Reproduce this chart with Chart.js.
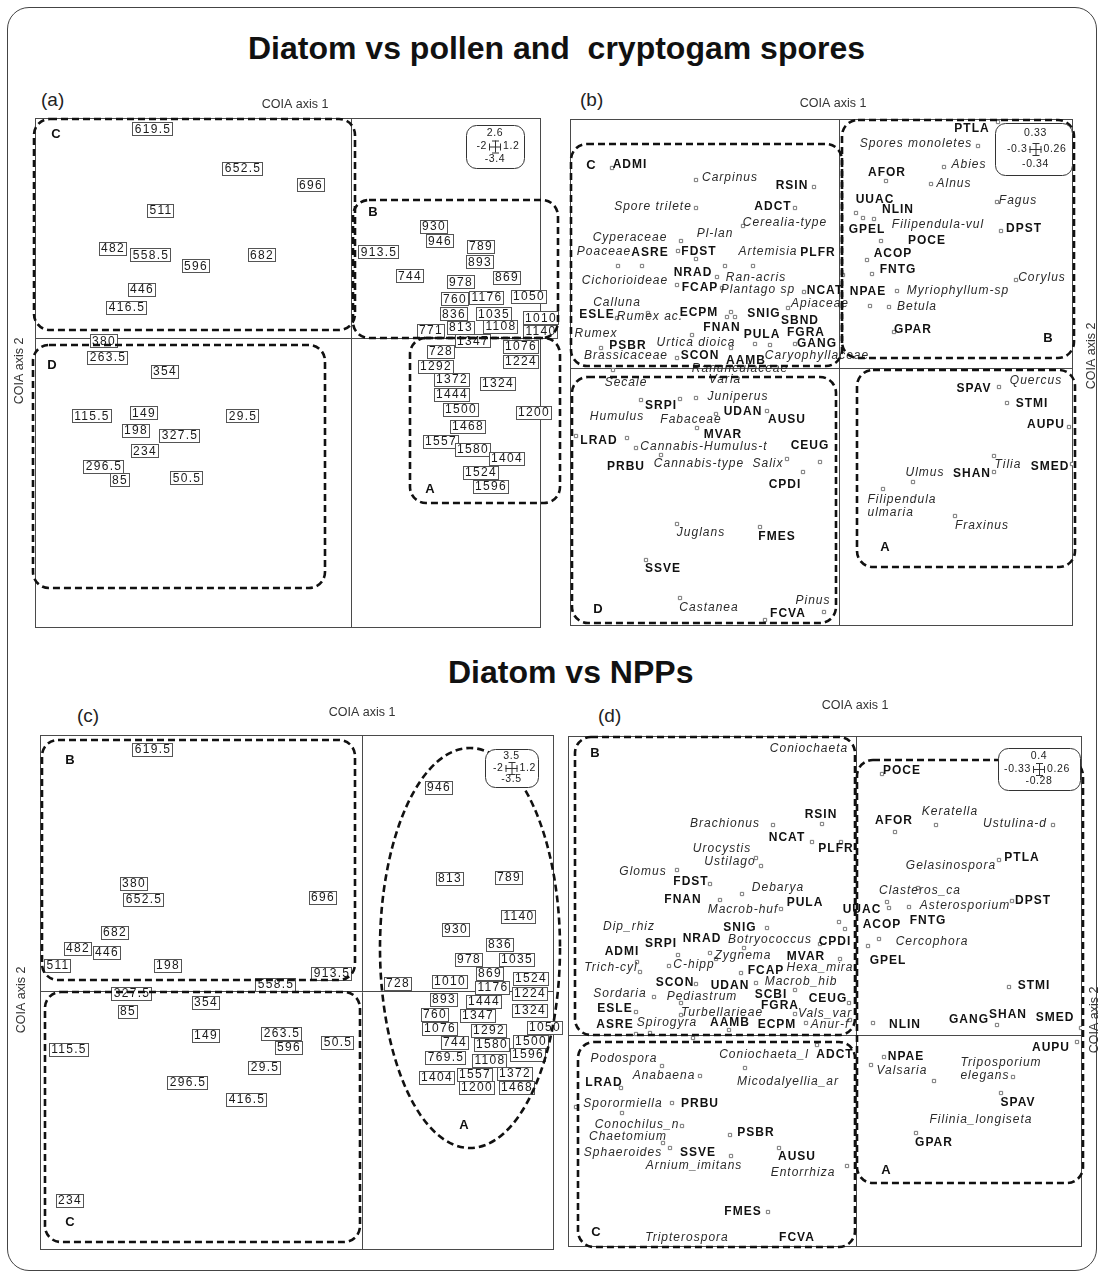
<!DOCTYPE html>
<html><head><meta charset="utf-8">
<script src="https://cdn.jsdelivr.net/npm/chart.js@4.4.0/dist/chart.umd.min.js"></script>
<style>
html,body{margin:0;padding:0;background:#fff;}
#page{position:relative;width:1103px;height:1279px;overflow:hidden;font-family:Arial,"Liberation Sans",sans-serif;}
#frame{position:absolute;left:7px;top:7px;width:1090px;height:1264px;border:1.5px solid #444;border-radius:22px;box-sizing:border-box;}
.title{position:absolute;white-space:pre;font-weight:bold;font-size:32px;line-height:32px;color:#111;}
.plab{position:absolute;font-size:19px;line-height:19px;color:#222;}
canvas{position:absolute;}
</style></head>
<body><div id="page">
<div id="frame"></div>
<div class="title" style="left:248px;top:32px;">Diatom vs pollen and  cryptogam spores</div>
<div class="title" style="left:448px;top:656px;">Diatom vs NPPs</div>
<div class="plab" style="left:41px;top:90px;">(a)</div>
<div class="plab" style="left:580px;top:90px;">(b)</div>
<div class="plab" style="left:77px;top:706px;">(c)</div>
<div class="plab" style="left:598px;top:706px;">(d)</div>
<canvas id="ca"></canvas><canvas id="cb"></canvas><canvas id="cc"></canvas><canvas id="cd"></canvas>
</div>
<script>
// ---------- Panel (a): diatom samples (depth labels) ----------
const aLabels = ['619.5','652.5','696','511','482','558.5','596','682','446','416.5','380','263.5','354','115.5','149','29.5','198','327.5','234','296.5','85','50.5','930','946','913.5','789','893','744','869','978','760','1176','1050','836','1035','1010','771','813','1108','1140','1347','1076','728','1224','1292','1372','1324','1444','1500','1200','1468','1557','1580','1404','1524','1596'];
const aX = [-1.99,-1.09,-0.41,-1.91,-2.39,-2.01,-1.56,-0.90,-2.10,-2.25,-2.48,-2.44,-1.87,-2.60,-2.08,-1.09,-2.16,-1.72,-2.07,-2.48,-2.32,-1.65,0.82,0.88,0.27,1.29,1.28,0.58,1.55,1.09,1.03,1.35,1.77,1.02,1.42,1.89,0.79,1.09,1.49,1.89,1.21,1.69,0.89,1.69,0.84,1.00,1.46,1.00,1.09,1.82,1.16,0.89,1.21,1.55,1.29,1.39];
const aY = [2.09,1.70,1.53,1.28,0.90,0.83,0.72,0.83,0.49,0.31,-0.03,-0.19,-0.33,-0.78,-0.75,-0.78,-0.92,-0.97,-1.13,-1.28,-1.42,-1.40,1.12,0.97,0.86,0.92,0.76,0.62,0.61,0.56,0.39,0.41,0.42,0.24,0.24,0.20,0.08,0.11,0.12,0.07,-0.03,-0.08,-0.13,-0.23,-0.28,-0.41,-0.45,-0.56,-0.71,-0.74,-0.88,-1.03,-1.11,-1.20,-1.34,-1.48];
const aRange = [-3.16, 1.90, -2.90, 2.20];
const aGroups = [['C',-3.17,2.19,0.04,0.08,-2.95,2.04],['B',0.02,1.38,2.07,0.00,0.22,1.26],['D',-3.18,-0.07,-0.26,-2.50,-2.99,-0.27],['A',0.59,0.00,2.09,-1.65,0.79,-1.51]];
const aLegend = ['2.6','-2','1.2','-3.4'];

// ---------- Panel (b): diatom species vs pollen / spores ----------
const bBold = ['ADMI','RSIN','ADCT','ASRE','FDST','PLFR','NRAD','FCAP','NCAT','ESLE','ECPM','SNIG','SBND','FNAN','PULA','FGRA','PSBR','GANG','SCON','AAMB','PTLA','AFOR','UUAC','NLIN','GPEL','DPST','POCE','ACOP','FNTG','NPAE','GPAR','SRPI','UDAN','AUSU','MVAR','LRAD','CEUG','PRBU','CPDI','FMES','SSVE','FCVA','SPAV','STMI','AUPU','SMED','SHAN'];
const bBoldX = [-2.09,-0.47,-0.66,-1.89,-1.40,-0.21,-1.46,-1.39,-0.14,-2.42,-1.40,-0.75,-0.39,-1.17,-0.77,-0.33,-2.11,-0.22,-1.39,-0.93,1.33,0.48,0.36,0.59,0.28,1.85,0.88,0.54,0.59,0.29,0.74,-1.78,-0.96,-0.52,-1.16,-2.40,-0.29,-2.13,-0.54,-0.62,-1.76,-0.51,1.35,1.93,2.07,2.11,1.33];
const bBoldY = [2.03,1.82,1.61,1.15,1.16,1.15,0.95,0.80,0.77,0.53,0.55,0.54,0.47,0.40,0.33,0.35,0.22,0.24,0.12,0.07,2.39,1.95,1.68,1.58,1.38,1.39,1.27,1.14,0.98,0.76,0.38,-0.38,-0.44,-0.52,-0.67,-0.73,-0.78,-0.99,-1.17,-1.69,-2.01,-2.46,-0.21,-0.36,-0.57,-0.99,-1.06];
const bTaxa = ['Carpinus','Spore trilete','Cerealia-type','Cyperaceae','Pl-lan','Poaceae','Artemisia','Cichorioideae','Ran-acris','Plantago sp','Calluna','Apiaceae','Rumex ac.','Rumex','Urtica dioica','Brassicaceae','Caryophyllaceae','Ranunculaceae','Spores monoletes','Abies','Alnus','Fagus','Filipendula-vul','Corylus','Myriophyllum-sp','Betula','Secale','Varia','Juniperus','Humulus','Fabaceae','Cannabis-Humulus-t','Cannabis-type','Salix','Juglans','Castanea','Pinus','Quercus','Tilia','Ulmus','Filipendula\nulmaria','Fraxinus'];
const bTaxaX = [-1.09,-1.86,-0.54,-2.09,-1.24,-2.35,-0.71,-2.14,-0.83,-0.81,-2.22,-0.19,-1.89,-2.43,-1.43,-2.13,-0.22,-0.99,0.77,1.30,1.15,1.79,0.99,2.03,1.19,0.78,-2.13,-1.14,-1.01,-2.22,-1.48,-1.35,-1.40,-0.71,-1.38,-1.30,-0.26,1.97,1.69,0.86,0.63,1.43];
const bTaxaY = [1.90,1.61,1.45,1.30,1.34,1.16,1.16,0.87,0.90,0.78,0.65,0.64,0.51,0.34,0.25,0.12,0.12,-0.01,2.24,2.03,1.84,1.67,1.43,0.90,0.77,0.61,-0.15,-0.12,-0.29,-0.49,-0.52,-0.79,-0.96,-0.96,-1.65,-2.40,-2.33,-0.13,-0.97,-1.05,-1.38,-1.58];
const bPtX = [-2.27,-1.43,-0.25,-1.43,-0.44,-0.96,-1.58,-1.61,-1.43,-2.21,-1.97,-1.14,-0.86,0.04,-1.22,-1.62,-1.17,-0.35,-0.51,-2.22,-1.91,-1.12,-1.08,-1.04,-1.47,-2.38,-1.08,-0.84,-0.69,-0.44,-2.26,-1.62,1.59,1.39,1.05,0.47,0.92,1.58,0.17,0.24,0.35,1.62,0.42,0.28,0.33,1.77,0.58,0.50,0.31,0.55,-1.43,-1.98,-1.59,-1.23,-0.72,-1.42,-2.63,-2.12,-2.03,-1.78,-0.52,-0.19,-0.36,-1.62,-0.79,-1.93,-1.59,-0.15,-0.74,1.60,1.68,2.30,1.55,2.33,0.74,1.55,0.44,1.16];
const bPtY = [2.00,1.88,1.81,1.60,1.60,1.42,1.27,1.17,1.09,1.02,1.02,1.02,1.02,0.93,0.91,0.83,0.80,0.76,0.60,0.50,0.55,0.51,0.56,0.51,0.33,0.20,0.20,0.24,0.23,0.24,-0.02,0.10,2.46,2.22,2.01,1.87,1.84,1.66,1.55,1.50,1.49,1.37,1.27,1.08,0.94,0.88,0.77,0.61,0.62,0.36,-0.30,-0.32,-0.31,-0.46,-0.43,-0.60,-0.68,-0.70,-0.80,-0.87,-0.91,-0.94,-1.04,-1.56,-1.59,-1.92,-2.30,-2.44,-2.52,-0.19,-0.35,-0.59,-0.88,-0.96,-1.14,-1.04,-1.21,-1.48];
const bRange = [-2.69, 2.34, -2.58, 2.49];
const bGroups = [['C',-2.68,2.24,0.03,0.02,-2.48,2.03],['B',0.03,2.48,2.35,0.10,2.09,0.30],['D',-2.67,-0.09,-0.03,-2.55,-2.41,-2.41],['A',0.18,-0.02,2.36,-1.99,0.46,-1.79]];
const bLegend = ['0.33','-0.3','0.26','-0.34'];

// ---------- Panel (c): diatom samples vs NPPs ----------
const cLabels = ['946','813','789','1140','930','836','978','1035','869','1524','728','1010','1176','1224','893','1444','1324','760','1347','1076','1292','1050','744','1580','1500','769.5','1596','1108','1404','1557','1372','1200','1468','619.5','380','652.5','696','682','482','446','511','198','558.5','913.5','327.5','85','354','149','263.5','596','50.5','29.5','115.5','296.5','416.5','234'];
const cX = [0.76,0.87,1.46,1.56,0.93,1.37,1.06,1.54,1.27,1.68,0.35,0.87,1.30,1.67,0.81,1.21,1.67,0.72,1.15,0.77,1.26,1.82,0.92,1.29,1.68,0.83,1.65,1.27,0.74,1.12,1.52,1.14,1.54,-2.10,-2.29,-2.19,-0.40,-2.48,-2.85,-2.56,-3.05,-1.95,-0.87,-0.31,-2.31,-2.35,-1.57,-1.57,-0.81,-0.74,-0.25,-0.98,-2.94,-1.75,-1.16,-2.93];
const cY = [2.04,1.13,1.14,0.75,0.62,0.47,0.32,0.32,0.18,0.13,0.08,0.10,0.04,-0.02,-0.08,-0.10,-0.19,-0.23,-0.24,-0.37,-0.39,-0.36,-0.51,-0.53,-0.50,-0.66,-0.63,-0.69,-0.86,-0.83,-0.82,-0.96,-0.96,2.42,1.08,0.92,0.94,0.59,0.43,0.39,0.26,0.26,0.07,0.18,-0.02,-0.20,-0.11,-0.44,-0.42,-0.56,-0.51,-0.76,-0.58,-0.91,-1.08,-2.09];
const cRange = [-3.22, 1.92, -2.59, 2.56];
const cGroups = [['B',-3.20,2.51,-0.07,0.11,-2.92,2.31],['C',-3.17,-0.01,-0.02,-2.51,-2.92,-2.31]];
const cEllipse = ['A',1.08,0.43,0.90,2.00,1.02,-1.34];
const cLegend = ['3.5','-2','1.2','-3.5'];

// ---------- Panel (d): diatom species vs NPPs ----------
const dBold = ['RSIN','NCAT','PLFR','FDST','FNAN','PULA','UUAC','SNIG','SRPI','NRAD','CPDI','ADMI','MVAR','FCAP','SCON','UDAN','SCBI','CEUG','ESLE','FGRA','ASRE','AAMB','ECPM','ADCT','LRAD','PRBU','PSBR','SSVE','AUSU','FMES','FCVA','POCE','AFOR','PTLA','DPST','ACOP','FNTG','GPEL','STMI','NLIN','GANG','SHAN','SMED','AUPU','NPAE','SPAV','GPAR'];
const dBoldX = [-0.35,-0.69,-0.20,-1.65,-1.73,-0.51,0.06,-1.16,-1.95,-1.54,-0.21,-2.34,-0.50,-0.90,-1.81,-1.26,-0.85,-0.28,-2.41,-0.76,-2.41,-1.26,-0.79,-0.21,-2.52,-1.56,-1.00,-1.58,-0.59,-1.13,-0.59,0.46,0.38,1.66,1.77,0.26,0.72,0.32,1.78,0.49,1.13,1.52,1.99,1.95,0.50,1.62,0.78];
const dBoldY = [2.20,1.97,1.86,1.53,1.35,1.32,1.25,1.07,0.91,0.96,0.93,0.83,0.78,0.64,0.52,0.49,0.40,0.36,0.26,0.29,0.10,0.12,0.10,-0.20,-0.48,-0.69,-0.98,-1.18,-1.22,-1.77,-2.03,2.64,2.14,1.77,1.34,1.10,1.14,0.74,0.49,0.10,0.15,0.20,0.17,-0.13,-0.22,-0.68,-1.08];
const dTaxa = ['Coniochaeta','Brachionus','Urocystis','Ustilago','Glomus','Debarya','Macrob-huf','Dip_rhiz','Botryococcus','Zygnema','Trich-cyl','C-hipp','Hexa_mira','Macrob_hib','Sordaria','Pediastrum','Turbellarieae','Vals_var','Spirogyra','Anur-f','Coniochaeta_l','Podospora','Anabaena','Micodalyellia_ar','Sporormiella','Conochilus_n','Chaetomium','Sphaeroides','Arnium_imitans','Entorrhiza','Tripterospora','Keratella','Ustulina-d','Gelasinospora','Clasteros_ca','Asterosporium','Cercophora','Valsaria','Triposporium\nelegans','Filinia_longiseta'];
const dTaxaX = [-0.47,-1.31,-1.34,-1.26,-2.13,-0.78,-1.13,-2.27,-0.86,-1.13,-2.45,-1.62,-0.36,-0.55,-2.36,-1.54,-1.34,-0.31,-1.89,-0.26,-0.92,-2.32,-1.92,-0.68,-2.33,-2.19,-2.28,-2.33,-1.62,-0.53,-1.69,0.94,1.59,0.95,0.64,1.09,0.76,0.46,1.45,1.25];
const dTaxaY = [2.86,2.11,1.86,1.73,1.63,1.47,1.25,1.08,0.95,0.79,0.67,0.70,0.67,0.53,0.41,0.38,0.22,0.21,0.12,0.10,-0.20,-0.24,-0.41,-0.47,-0.69,-0.90,-1.02,-1.18,-1.31,-1.38,-2.03,2.23,2.11,1.69,1.44,1.29,0.93,-0.36,-0.34,-0.85];
const dPtX = [-0.34,-0.83,-0.44,-0.15,-1.00,-0.95,-1.79,-1.46,-1.14,-1.36,-0.75,-0.89,-0.17,-0.11,-1.12,-0.36,-1.46,-1.40,-0.16,-2.19,-2.16,-1.87,-1.78,-1.15,-1.60,-1.00,-0.61,-2.02,-1.75,-0.07,-2.20,-1.75,-0.61,-2.20,-2.06,-1.27,-0.50,-0.06,-1.63,-0.39,-1.94,-1.56,-1.11,-2.35,-1.84,-2.80,-1.74,-2.34,-1.93,-1.26,-1.86,-1.25,-0.77,-0.09,-0.88,0.26,0.80,0.39,1.97,1.43,0.62,0.53,0.31,0.33,1.56,0.23,0.12,1.53,0.17,1.41,2.25,2.21,0.28,0.15,0.78,1.57,1.45,0.60];
const dPtY = [2.11,2.10,1.93,1.93,1.77,1.69,1.65,1.51,1.41,1.35,1.26,1.07,1.13,1.06,0.87,0.91,0.82,0.76,0.76,0.73,0.63,0.69,0.80,0.62,0.51,0.52,0.45,0.38,0.32,0.32,0.23,0.20,0.21,0.01,0.02,0.05,0.12,0.15,-0.03,-0.10,-0.31,-0.41,-0.33,-0.53,-0.68,-0.72,-0.91,-0.78,-1.08,-1.00,-1.13,-1.21,-1.13,-1.31,-1.77,2.61,2.10,2.03,2.10,1.75,1.47,1.28,1.33,1.27,1.34,0.96,0.89,0.48,0.12,0.10,0.07,-0.07,-0.22,-0.30,-0.46,-0.42,-0.58,-0.98];
const dRange = [-2.88, 2.26, -2.12, 2.99];
const dGroups = [['B',-2.81,2.98,-0.01,0.00,-2.61,2.82],['A',0.01,2.75,2.27,-1.48,0.30,-1.35],['C',-2.78,-0.07,-0.01,-2.12,-2.60,-1.97]];
const dLegend = ['0.4','-0.33','0.26','-0.28'];

const AXIS1 = 'COIA axis 1', AXIS2 = 'COIA axis 2';

// ---------- drawing helpers ----------
function pts(xs, ys){ return xs.map((x,i)=>({x:x, y:ys[i]})); }

function roundRectPath(ctx, l, t, r, b, rad){
  ctx.beginPath();
  ctx.moveTo(l+rad, t);
  ctx.arcTo(r, t, r, b, rad);
  ctx.arcTo(r, b, l, b, rad);
  ctx.arcTo(l, b, l, t, rad);
  ctx.arcTo(l, t, r, t, rad);
  ctx.closePath();
}

function decoPlugin(cfg){
  return {
    id: 'deco',
    beforeDatasetsDraw(chart){
      const ctx = chart.ctx, a = chart.chartArea, sx = chart.scales.x, sy = chart.scales.y;
      ctx.save();
      ctx.strokeStyle = '#4a4a4a'; ctx.lineWidth = 1;
      ctx.strokeRect(Math.round(a.left)+0.5, Math.round(a.top)+0.5, Math.round(a.right-a.left)-1, Math.round(a.bottom-a.top)-1);
      const x0 = Math.round(sx.getPixelForValue(0))+0.5, y0 = Math.round(sy.getPixelForValue(0))+0.5;
      ctx.beginPath();
      ctx.moveTo(x0, a.top); ctx.lineTo(x0, a.bottom);
      ctx.moveTo(a.left, y0); ctx.lineTo(a.right, y0);
      ctx.stroke();
      ctx.restore();
    },
    afterDatasetsDraw(chart){
      const ctx = chart.ctx, a = chart.chartArea, sx = chart.scales.x, sy = chart.scales.y;
      ctx.save();
      // boxed sample labels
      if (cfg.boxed){
        const meta = chart.getDatasetMeta(cfg.boxed.ds);
        ctx.font = '12px Arial, "Liberation Sans", sans-serif';
        ctx.letterSpacing = '1.3px';
        ctx.textAlign = 'center'; ctx.textBaseline = 'middle';
        meta.data.forEach((el, i) => {
          const t = cfg.boxed.names[i];
          const w = ctx.measureText(t).width + 3, h = 13;
          const l = Math.round(el.x - w/2), tp = Math.round(el.y - h/2);
          ctx.fillStyle = '#fff'; ctx.fillRect(l, tp, Math.round(w), h);
          ctx.strokeStyle = '#555'; ctx.lineWidth = 1;
          ctx.strokeRect(l+0.5, tp+0.5, Math.round(w), h);
          ctx.fillStyle = '#1a1a1a'; ctx.fillText(t, el.x + 1, el.y + 1);
        });
      }
      // free text labels
      (cfg.texts || []).forEach(ts => {
        const meta = chart.getDatasetMeta(ts.ds);
        ctx.font = ts.bold ? 'bold 12px Arial, "Liberation Sans", sans-serif' : 'italic 12px Arial, "Liberation Sans", sans-serif';
        ctx.letterSpacing = '1px';
        ctx.fillStyle = ts.bold ? '#111' : '#2a2a2a';
        ctx.textBaseline = 'middle';
        meta.data.forEach((el, i) => {
          const lines = ts.names[i].split('\n');
          if (lines.length === 1){
            ctx.textAlign = 'center'; ctx.fillText(lines[0], el.x, el.y);
          } else {
            const mw = Math.max(...lines.map(s => ctx.measureText(s).width));
            ctx.textAlign = 'left';
            lines.forEach((s, k) => ctx.fillText(s, el.x - mw/2, el.y + (k - (lines.length-1)/2)*13.5));
          }
        });
      });
      // dashed group outlines and letters
      ctx.letterSpacing = '0px';
      ctx.strokeStyle = '#111'; ctx.lineWidth = 2.6; ctx.setLineDash([7,4]);
      (cfg.groups || []).forEach(g => {
        const l = sx.getPixelForValue(g[1]), t = sy.getPixelForValue(g[2]);
        const r = sx.getPixelForValue(g[3]), b = sy.getPixelForValue(g[4]);
        roundRectPath(ctx, l, t, r, b, 16); ctx.stroke();
      });
      if (cfg.ellipse){
        const e = cfg.ellipse;
        const cx = sx.getPixelForValue(e[1]), cy = sy.getPixelForValue(e[2]);
        const rx = Math.abs(sx.getPixelForValue(e[1]+e[3]) - cx), ry = Math.abs(sy.getPixelForValue(e[2]+e[4]) - cy);
        ctx.beginPath(); ctx.ellipse(cx, cy, rx, ry, 0, 0, Math.PI*2); ctx.stroke();
      }
      ctx.setLineDash([]);
      ctx.font = 'bold 13px Arial, "Liberation Sans", sans-serif';
      ctx.fillStyle = '#111'; ctx.textAlign = 'center'; ctx.textBaseline = 'middle';
      (cfg.groups || []).concat(cfg.ellipse ? [cfg.ellipse] : []).forEach(g => {
        ctx.fillText(g[0], sx.getPixelForValue(g[5]), sy.getPixelForValue(g[6]));
      });
      // scale legend box
      const L = cfg.legend;
      const x2 = a.right - L.dr, x1 = x2 - L.w, y1 = a.top + L.dt, y2 = y1 + L.h;
      ctx.fillStyle = '#fff'; ctx.strokeStyle = '#333'; ctx.lineWidth = 1;
      roundRectPath(ctx, x1+0.5, y1+0.5, x2+0.5, y2+0.5, 10); ctx.fill(); ctx.stroke();
      const cx = (x1+x2)/2 + L.cxo, cy = (y1+y2)/2;
      ctx.font = '10.5px Arial, "Liberation Sans", sans-serif'; ctx.letterSpacing = '0.6px';
      ctx.fillStyle = '#222'; ctx.textBaseline = 'middle';
      ctx.textAlign = 'center';
      ctx.fillText(L.vals[0], cx, cy - L.h*0.3);
      ctx.fillText(L.vals[3], cx, cy + L.h*0.3);
      ctx.textAlign = 'right'; ctx.fillText(L.vals[1], cx - 8, cy);
      ctx.textAlign = 'left'; ctx.fillText(L.vals[2], cx + 8, cy);
      ctx.beginPath();
      ctx.moveTo(cx-6, cy+0.5); ctx.lineTo(cx+6, cy+0.5);
      ctx.moveTo(cx-5.5, cy-3); ctx.lineTo(cx-5.5, cy+4);
      ctx.moveTo(cx+5.5, cy-3); ctx.lineTo(cx+5.5, cy+4);
      ctx.moveTo(cx+0.5, cy-6); ctx.lineTo(cx+0.5, cy+6);
      ctx.moveTo(cx-3, cy-5.5); ctx.lineTo(cx+4, cy-5.5);
      ctx.moveTo(cx-3, cy+6.5); ctx.lineTo(cx+4, cy+6.5);
      ctx.stroke();
      // axis titles
      ctx.font = '12.5px Arial, "Liberation Sans", sans-serif'; ctx.letterSpacing = '0px';
      ctx.fillStyle = '#333'; ctx.textAlign = 'center'; ctx.textBaseline = 'middle';
      ctx.fillText(AXIS1, sx.getPixelForValue(cfg.ax1.at), a.top - cfg.ax1.gap);
      const ax2x = cfg.ax2.side === 'left' ? a.left - cfg.ax2.gap : a.right + cfg.ax2.gap;
      ctx.translate(ax2x, sy.getPixelForValue(cfg.ax2.at));
      ctx.rotate(-Math.PI/2);
      ctx.fillText(AXIS2, 0, 0);
      ctx.restore();
    }
  };
}

function makeChart(id, box, range, datasets, cfg){
  const M = 45;
  const cv = document.getElementById(id);
  const W = box[2]-box[0]+2*M, H = box[3]-box[1]+2*M;
  cv.width = W; cv.height = H;
  cv.style.width = W+'px'; cv.style.height = H+'px';
  cv.style.left = (box[0]-M)+'px'; cv.style.top = (box[1]-M)+'px';
  return new Chart(cv, {
    type: 'scatter',
    data: { datasets: datasets },
    options: {
      responsive: false, animation: false, devicePixelRatio: 1, events: [],
      layout: { padding: M },
      plugins: { legend: {display:false}, tooltip: {enabled:false}, title: {display:false} },
      scales: {
        x: { type:'linear', min: range[0], max: range[1], display: false },
        y: { type:'linear', min: range[2], max: range[3], display: false }
      }
    },
    plugins: [decoPlugin(cfg)]
  });
}

const hidden = d => ({ data: d, pointRadius: 0, pointHoverRadius: 0, showLine: false });
const squares = d => ({ data: d, pointStyle: 'rect', pointRadius: 2.3, pointBorderWidth: 1, pointBorderColor: '#777', pointBackgroundColor: '#fff', borderColor:'#777', backgroundColor:'#fff', showLine:false });

makeChart('ca', [35,118,541,628], aRange, [hidden(pts(aX,aY))], {
  boxed: {ds:0, names:aLabels}, groups: aGroups,
  legend: {vals:aLegend, w:58, h:43, dr:17, dt:7, cxo:0},
  ax1: {at:-0.56, gap:13}, ax2: {side:'left', gap:15, at:-0.33}
});
makeChart('cb', [570,119,1073,626], bRange, [squares(pts(bPtX,bPtY)), hidden(pts(bBoldX,bBoldY)), hidden(pts(bTaxaX,bTaxaY))], {
  texts: [{ds:1, names:bBold, bold:true}, {ds:2, names:bTaxa, bold:false}], groups: bGroups,
  legend: {vals:bLegend, w:77, h:52, dr:1, dt:4, cxo:2},
  ax1: {at:-0.06, gap:15}, ax2: {side:'right', gap:19, at:0.12}
});
makeChart('cc', [40,735,554,1250], cRange, [hidden(pts(cX,cY))], {
  boxed: {ds:0, names:cLabels}, groups: cGroups, ellipse: cEllipse,
  legend: {vals:cLegend, w:53, h:38, dr:16, dt:14, cxo:0},
  ax1: {at:0, gap:22}, ax2: {side:'left', gap:18, at:-0.09}
});
makeChart('cd', [568,736,1082,1247], dRange, [squares(pts(dPtX,dPtY)), hidden(pts(dBoldX,dBoldY)), hidden(pts(dTaxaX,dTaxaY))], {
  texts: [{ds:1, names:dBold, bold:true}, {ds:2, names:dTaxa, bold:false}], groups: dGroups,
  legend: {vals:dLegend, w:82, h:42, dr:2, dt:12, cxo:0},
  ax1: {at:-0.01, gap:30}, ax2: {side:'right', gap:13, at:0.15}
});
</script>
</body></html>
